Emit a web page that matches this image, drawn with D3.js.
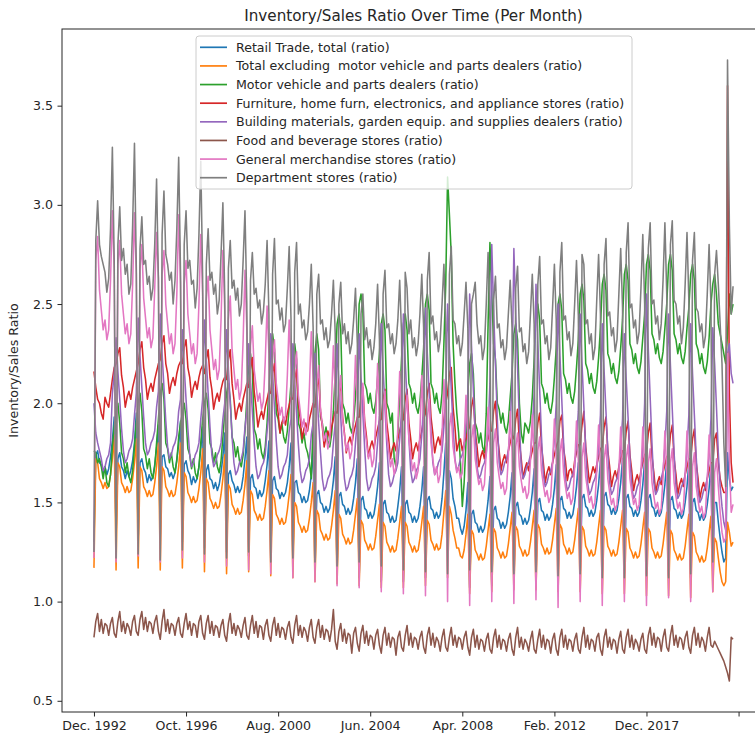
<!DOCTYPE html>
<html>
<head>
<meta charset="utf-8">
<script src="https://cdn.jsdelivr.net/npm/d3@7"></script>
<style>
  body { margin: 0; background: #fff; }
  text { font-family: "DejaVu Sans", sans-serif; fill: #262626; }
</style>
</head>
<body>
<svg width="755" height="735"></svg>
<script>
// monthly points, first one is Dec. 1992, one row = Dec..Nov
var tickLabels = ["Dec. 1992", "Oct. 1996", "Aug. 2000", "Jun. 2004", "Apr. 2008", "Feb. 2012", "Dec. 2017"];
var tickIndex = [0, 50, 100, 150, 200, 250, 300, 350];

var seriesNames = [
  "Retail Trade, total (ratio)",
  "Total excluding  motor vehicle and parts dealers (ratio)",
  "Motor vehicle and parts dealers (ratio)",
  "Furniture, home furn, electronics, and appliance stores (ratio)",
  "Building materials, garden equip. and supplies dealers (ratio)",
  "Food and beverage stores (ratio)",
  "General merchandise stores (ratio)",
  "Department stores (ratio)"
];
var colors = ["#1f77b4", "#ff7f0e", "#2ca02c", "#d62728", "#9467bd", "#8c564b", "#e377c2", "#7f7f7f"];

var retailTotal = [
  1.30, 1.74, 1.76, 1.70, 1.69, 1.65, 1.68, 1.64, 1.67, 1.73, 1.81, 1.93,
  1.33, 1.72, 1.75, 1.68, 1.66, 1.62, 1.66, 1.63, 1.66, 1.71, 1.80, 1.95,
  1.31, 1.70, 1.72, 1.67, 1.65, 1.60, 1.64, 1.61, 1.63, 1.69, 1.77, 1.89,
  1.33, 1.73, 1.74, 1.68, 1.67, 1.63, 1.65, 1.62, 1.65, 1.72, 1.79, 1.91,
  1.30, 1.69, 1.71, 1.66, 1.64, 1.59, 1.63, 1.60, 1.62, 1.68, 1.77, 1.88,
  1.27, 1.66, 1.69, 1.62, 1.61, 1.57, 1.60, 1.56, 1.59, 1.65, 1.73, 1.85,
  1.25, 1.64, 1.66, 1.61, 1.59, 1.55, 1.58, 1.55, 1.57, 1.63, 1.72, 1.83,
  1.23, 1.62, 1.64, 1.58, 1.57, 1.52, 1.56, 1.53, 1.55, 1.61, 1.69, 1.81,
  1.22, 1.61, 1.63, 1.57, 1.56, 1.52, 1.55, 1.53, 1.55, 1.60, 1.68, 1.80,
  1.20, 1.60, 1.61, 1.55, 1.54, 1.50, 1.53, 1.50, 1.51, 1.56, 1.64, 1.78,
  1.15, 1.54, 1.56, 1.50, 1.49, 1.45, 1.48, 1.45, 1.47, 1.53, 1.61, 1.73,
  1.14, 1.53, 1.55, 1.49, 1.48, 1.44, 1.47, 1.44, 1.46, 1.52, 1.60, 1.72,
  1.12, 1.51, 1.53, 1.47, 1.46, 1.42, 1.45, 1.42, 1.44, 1.50, 1.58, 1.70,
  1.10, 1.49, 1.51, 1.45, 1.44, 1.40, 1.43, 1.40, 1.41, 1.48, 1.56, 1.68,
  1.10, 1.49, 1.51, 1.45, 1.44, 1.40, 1.43, 1.40, 1.42, 1.48, 1.56, 1.68,
  1.12, 1.51, 1.53, 1.47, 1.46, 1.42, 1.45, 1.42, 1.44, 1.52, 1.65, 1.80,
  1.30, 1.66, 1.62, 1.52, 1.48, 1.42, 1.42, 1.37, 1.34, 1.38, 1.46, 1.60,
  1.07, 1.44, 1.46, 1.40, 1.39, 1.35, 1.38, 1.35, 1.37, 1.43, 1.51, 1.63,
  1.08, 1.46, 1.48, 1.42, 1.41, 1.37, 1.40, 1.37, 1.39, 1.45, 1.53, 1.65,
  1.10, 1.48, 1.50, 1.44, 1.43, 1.39, 1.42, 1.39, 1.41, 1.47, 1.55, 1.67,
  1.12, 1.50, 1.52, 1.46, 1.45, 1.41, 1.44, 1.41, 1.43, 1.49, 1.57, 1.69,
  1.13, 1.51, 1.53, 1.47, 1.46, 1.42, 1.45, 1.42, 1.44, 1.50, 1.58, 1.70,
  1.14, 1.52, 1.54, 1.48, 1.47, 1.43, 1.46, 1.43, 1.45, 1.51, 1.59, 1.71,
  1.15, 1.53, 1.55, 1.49, 1.48, 1.44, 1.47, 1.44, 1.46, 1.52, 1.60, 1.72,
  1.14, 1.52, 1.54, 1.48, 1.47, 1.43, 1.46, 1.43, 1.45, 1.51, 1.59, 1.71,
  1.14, 1.52, 1.54, 1.48, 1.47, 1.43, 1.46, 1.43, 1.45, 1.51, 1.59, 1.71,
  1.13, 1.51, 1.53, 1.47, 1.46, 1.42, 1.45, 1.42, 1.44, 1.50, 1.58, 1.70,
  1.12, 1.50, 1.52, 1.46, 1.45, 1.41, 1.44, 1.41, 1.43, 1.49, 1.57, 1.69,
  1.15, 1.50, 1.50, 1.40, 1.32, 1.25, 1.20, 1.22, 1.75, 1.62, 1.56, 1.58
];

var totalExMotor = [
  1.17, 1.72, 1.70, 1.62, 1.60, 1.57, 1.60, 1.57, 1.58, 1.64, 1.72, 1.84,
  1.16, 1.70, 1.68, 1.60, 1.58, 1.55, 1.58, 1.55, 1.56, 1.62, 1.70, 1.82,
  1.17, 1.68, 1.66, 1.58, 1.56, 1.53, 1.56, 1.53, 1.54, 1.60, 1.68, 1.80,
  1.16, 1.68, 1.66, 1.58, 1.56, 1.53, 1.56, 1.53, 1.54, 1.60, 1.68, 1.80,
  1.17, 1.65, 1.63, 1.55, 1.53, 1.50, 1.53, 1.50, 1.51, 1.57, 1.65, 1.77,
  1.15, 1.62, 1.60, 1.52, 1.50, 1.47, 1.50, 1.47, 1.48, 1.54, 1.62, 1.74,
  1.14, 1.59, 1.57, 1.49, 1.47, 1.44, 1.47, 1.44, 1.45, 1.51, 1.59, 1.71,
  1.15, 1.56, 1.54, 1.46, 1.44, 1.41, 1.44, 1.41, 1.42, 1.48, 1.56, 1.66,
  1.13, 1.54, 1.52, 1.44, 1.42, 1.39, 1.42, 1.39, 1.40, 1.46, 1.54, 1.64,
  1.12, 1.50, 1.48, 1.40, 1.38, 1.35, 1.38, 1.35, 1.36, 1.42, 1.50, 1.60,
  1.10, 1.46, 1.44, 1.36, 1.34, 1.31, 1.34, 1.31, 1.32, 1.38, 1.46, 1.56,
  1.09, 1.44, 1.42, 1.34, 1.32, 1.29, 1.32, 1.29, 1.30, 1.36, 1.44, 1.52,
  1.08, 1.41, 1.39, 1.31, 1.29, 1.26, 1.29, 1.26, 1.27, 1.33, 1.41, 1.49,
  1.07, 1.40, 1.38, 1.30, 1.28, 1.25, 1.28, 1.25, 1.26, 1.32, 1.40, 1.48,
  1.07, 1.40, 1.38, 1.30, 1.28, 1.25, 1.28, 1.25, 1.26, 1.32, 1.40, 1.48,
  1.08, 1.41, 1.39, 1.31, 1.29, 1.26, 1.29, 1.26, 1.27, 1.34, 1.45, 1.56,
  1.12, 1.48, 1.44, 1.36, 1.32, 1.27, 1.27, 1.23, 1.22, 1.26, 1.34, 1.44,
  1.04, 1.36, 1.34, 1.26, 1.24, 1.21, 1.24, 1.21, 1.22, 1.28, 1.36, 1.44,
  1.05, 1.37, 1.35, 1.27, 1.25, 1.22, 1.25, 1.22, 1.23, 1.29, 1.37, 1.45,
  1.06, 1.38, 1.36, 1.28, 1.26, 1.23, 1.26, 1.23, 1.24, 1.30, 1.38, 1.46,
  1.06, 1.39, 1.37, 1.29, 1.27, 1.24, 1.27, 1.24, 1.25, 1.31, 1.39, 1.47,
  1.05, 1.39, 1.37, 1.29, 1.27, 1.24, 1.27, 1.24, 1.25, 1.31, 1.39, 1.47,
  1.05, 1.38, 1.36, 1.28, 1.26, 1.23, 1.26, 1.23, 1.24, 1.30, 1.38, 1.46,
  1.04, 1.38, 1.36, 1.28, 1.26, 1.23, 1.26, 1.23, 1.24, 1.30, 1.38, 1.46,
  1.04, 1.37, 1.35, 1.27, 1.25, 1.22, 1.25, 1.22, 1.23, 1.29, 1.37, 1.45,
  1.03, 1.37, 1.35, 1.27, 1.25, 1.22, 1.25, 1.22, 1.23, 1.29, 1.37, 1.45,
  1.03, 1.36, 1.34, 1.26, 1.24, 1.21, 1.24, 1.21, 1.22, 1.28, 1.36, 1.44,
  1.02, 1.35, 1.33, 1.25, 1.23, 1.20, 1.23, 1.20, 1.21, 1.27, 1.35, 1.43,
  1.05, 1.32, 1.30, 1.22, 1.15, 1.10, 1.08, 1.10, 1.40, 1.35, 1.28, 1.30
];

var motorVehicle = [
  1.76, 1.75, 1.70, 1.72, 1.68, 1.62, 1.68, 1.60, 1.58, 1.64, 1.78, 1.88,
  1.95, 2.00, 1.90, 1.75, 1.72, 1.65, 1.70, 1.63, 1.60, 1.66, 1.78, 1.90,
  2.00, 2.05, 1.96, 1.77, 1.74, 1.67, 1.72, 1.65, 1.62, 1.68, 1.80, 1.92,
  2.05, 2.10, 2.02, 1.80, 1.77, 1.70, 1.75, 1.68, 1.65, 1.71, 1.83, 1.90,
  1.95, 2.00, 1.92, 1.77, 1.74, 1.67, 1.72, 1.65, 1.62, 1.68, 1.80, 1.92,
  2.00, 2.05, 1.97, 1.80, 1.77, 1.70, 1.75, 1.68, 1.65, 1.71, 1.83, 1.95,
  2.05, 2.10, 2.02, 1.83, 1.80, 1.73, 1.78, 1.71, 1.68, 1.74, 1.86, 2.02,
  2.20, 2.25, 2.17, 1.87, 1.84, 1.77, 1.82, 1.75, 1.72, 1.78, 1.90, 2.08,
  2.30, 2.35, 2.27, 1.95, 1.92, 1.85, 1.90, 1.83, 1.80, 1.86, 1.98, 2.10,
  2.25, 2.30, 2.22, 1.90, 1.87, 1.80, 1.85, 1.78, 1.75, 1.70, 1.62, 1.90,
  2.25, 2.35, 2.27, 1.93, 1.90, 1.83, 1.88, 1.81, 1.78, 1.84, 1.96, 2.15,
  2.40, 2.45, 2.37, 2.00, 1.97, 1.90, 1.95, 1.88, 1.85, 1.91, 2.03, 2.20,
  2.50, 2.55, 2.47, 2.10, 2.07, 2.00, 2.05, 1.98, 1.95, 2.01, 2.13, 2.25,
  2.40, 2.45, 2.37, 2.00, 1.97, 1.90, 1.95, 1.72, 1.68, 1.85, 2.03, 2.22,
  2.40, 2.45, 2.37, 2.10, 2.07, 2.00, 2.05, 1.98, 1.95, 2.01, 2.13, 2.28,
  2.50, 2.55, 2.47, 2.10, 2.07, 2.00, 2.05, 1.98, 1.95, 2.05, 2.30, 2.60,
  3.14, 2.95, 2.75, 2.30, 2.10, 1.95, 1.85, 1.70, 1.48, 1.60, 1.80, 2.05,
  2.20, 2.25, 2.15, 1.90, 1.87, 1.80, 1.85, 1.78, 1.75, 1.95, 2.40, 2.81,
  2.55, 2.30, 2.22, 2.00, 1.97, 1.90, 1.95, 1.88, 1.85, 1.91, 2.03, 2.15,
  2.35, 2.40, 2.32, 2.00, 1.85, 1.80, 1.90, 1.88, 1.85, 1.91, 2.03, 2.22,
  2.45, 2.50, 2.42, 2.10, 2.07, 2.00, 2.05, 1.98, 1.95, 2.01, 2.13, 2.28,
  2.50, 2.55, 2.47, 2.15, 2.12, 2.05, 2.10, 2.03, 2.00, 2.06, 2.18, 2.32,
  2.55, 2.60, 2.52, 2.20, 2.17, 2.10, 2.15, 2.08, 2.05, 2.11, 2.23, 2.38,
  2.60, 2.65, 2.57, 2.25, 2.22, 2.15, 2.20, 2.13, 2.10, 2.16, 2.28, 2.42,
  2.65, 2.70, 2.62, 2.30, 2.27, 2.20, 2.25, 2.18, 2.15, 2.21, 2.33, 2.45,
  2.70, 2.75, 2.67, 2.35, 2.32, 2.25, 2.30, 2.23, 2.20, 2.26, 2.38, 2.50,
  2.70, 2.75, 2.67, 2.35, 2.32, 2.25, 2.30, 2.23, 2.20, 2.26, 2.38, 2.48,
  2.65, 2.70, 2.62, 2.30, 2.27, 2.20, 2.25, 2.18, 2.15, 2.21, 2.33, 2.50,
  2.60, 2.65, 2.55, 2.40, 2.35, 2.30, 2.25, 2.20, 2.35, 2.55, 2.45, 2.50
];

var furniture = [
  2.16, 2.08, 2.02, 2.00, 1.95, 1.92, 2.03, 2.00, 1.98, 2.05, 2.12, 2.18,
  2.20, 2.25, 2.28, 2.14, 2.08, 1.98, 2.03, 2.06, 2.02, 2.08, 2.12, 2.16,
  2.20, 2.27, 2.31, 2.18, 2.12, 2.02, 2.07, 2.10, 2.06, 2.12, 2.16, 2.20,
  2.22, 2.30, 2.34, 2.20, 2.15, 2.05, 2.10, 2.13, 2.09, 2.15, 2.19, 2.21,
  2.20, 2.28, 2.32, 2.18, 2.13, 2.03, 2.08, 2.11, 2.07, 2.13, 2.17, 2.19,
  2.15, 2.22, 2.27, 2.13, 2.07, 1.97, 2.02, 2.05, 2.01, 2.07, 2.11, 2.13,
  2.12, 2.22, 2.27, 2.10, 2.02, 1.92, 1.97, 2.00, 1.96, 2.02, 2.06, 2.10,
  2.08, 2.18, 2.23, 2.06, 1.98, 1.88, 1.93, 1.96, 1.92, 1.98, 2.02, 2.06,
  2.05, 2.15, 2.20, 2.03, 1.95, 1.85, 1.90, 1.93, 1.89, 1.95, 1.99, 2.03,
  2.02, 2.12, 2.17, 2.00, 1.92, 1.82, 1.87, 1.90, 1.86, 1.92, 1.96, 2.00,
  1.98, 2.08, 2.13, 1.96, 1.88, 1.78, 1.83, 1.86, 1.82, 1.88, 1.92, 1.96,
  1.95, 2.05, 2.10, 1.93, 1.85, 1.75, 1.80, 1.83, 1.79, 1.85, 1.89, 1.93,
  1.93, 2.03, 2.08, 1.91, 1.83, 1.73, 1.78, 1.81, 1.77, 1.83, 1.87, 1.91,
  1.92, 2.02, 2.07, 1.90, 1.82, 1.72, 1.77, 1.80, 1.76, 1.82, 1.86, 1.90,
  1.92, 2.02, 2.07, 1.90, 1.82, 1.72, 1.77, 1.80, 1.76, 1.82, 1.86, 1.92,
  1.95, 2.05, 2.10, 1.93, 1.85, 1.75, 1.80, 1.83, 1.79, 1.85, 1.92, 2.00,
  2.05, 2.15, 2.18, 1.98, 1.88, 1.76, 1.80, 1.82, 1.76, 1.80, 1.82, 1.86,
  1.88, 1.98, 2.03, 1.86, 1.78, 1.68, 1.73, 1.76, 1.72, 1.78, 1.82, 1.86,
  1.86, 1.96, 2.01, 1.84, 1.76, 1.66, 1.71, 1.74, 1.70, 1.76, 1.80, 1.84,
  1.82, 1.92, 1.97, 1.80, 1.72, 1.62, 1.67, 1.70, 1.66, 1.72, 1.76, 1.80,
  1.80, 1.90, 1.95, 1.78, 1.70, 1.60, 1.65, 1.68, 1.64, 1.70, 1.74, 1.78,
  1.81, 1.91, 1.94, 1.77, 1.71, 1.61, 1.66, 1.67, 1.63, 1.71, 1.75, 1.79,
  1.79, 1.89, 1.96, 1.78, 1.69, 1.60, 1.64, 1.68, 1.65, 1.69, 1.73, 1.77,
  1.78, 1.88, 1.93, 1.76, 1.68, 1.58, 1.63, 1.66, 1.62, 1.68, 1.72, 1.76,
  1.76, 1.86, 1.91, 1.74, 1.66, 1.56, 1.61, 1.64, 1.60, 1.66, 1.70, 1.74,
  1.75, 1.85, 1.90, 1.73, 1.65, 1.55, 1.60, 1.63, 1.59, 1.65, 1.69, 1.73,
  1.74, 1.84, 1.89, 1.72, 1.64, 1.54, 1.59, 1.62, 1.58, 1.64, 1.68, 1.72,
  1.72, 1.82, 1.87, 1.70, 1.62, 1.52, 1.57, 1.60, 1.56, 1.62, 1.66, 1.70,
  1.70, 1.82, 1.85, 1.70, 1.62, 1.58, 1.55, 1.55, 3.60, 2.05, 1.70, 1.60
];

var building = [
  2.00, 1.85, 1.80, 1.76, 1.72, 1.66, 1.68, 1.72, 1.74, 1.80, 2.05, 2.15,
  2.33, 2.16, 2.02, 1.87, 1.76, 1.70, 1.72, 1.76, 1.78, 1.82, 1.94, 2.05,
  2.43, 2.24, 2.08, 1.93, 1.80, 1.74, 1.76, 1.80, 1.82, 1.86, 1.98, 2.06,
  2.45, 2.25, 2.08, 1.91, 1.78, 1.72, 1.74, 1.78, 1.80, 1.84, 1.96, 2.02,
  2.37, 2.18, 2.02, 1.87, 1.74, 1.68, 1.70, 1.74, 1.76, 1.80, 1.92, 2.02,
  2.42, 2.22, 2.05, 1.88, 1.74, 1.68, 1.70, 1.74, 1.76, 1.80, 1.92, 2.00,
  2.37, 2.17, 2.00, 1.83, 1.70, 1.64, 1.66, 1.70, 1.72, 1.76, 1.88, 1.96,
  2.30, 2.11, 1.96, 1.80, 1.68, 1.62, 1.64, 1.68, 1.70, 1.74, 1.86, 1.95,
  2.35, 2.15, 1.98, 1.81, 1.68, 1.62, 1.64, 1.68, 1.70, 1.74, 1.86, 1.92,
  2.30, 2.11, 1.95, 1.79, 1.66, 1.60, 1.62, 1.66, 1.68, 1.72, 1.84, 1.90,
  2.25, 2.06, 1.90, 1.75, 1.62, 1.56, 1.58, 1.62, 1.64, 1.68, 1.80, 1.90,
  2.30, 2.10, 1.93, 1.76, 1.62, 1.56, 1.58, 1.62, 1.64, 1.68, 1.80, 1.92,
  2.35, 2.13, 1.95, 1.77, 1.62, 1.56, 1.58, 1.62, 1.64, 1.68, 1.80, 1.94,
  2.40, 2.17, 1.98, 1.79, 1.64, 1.58, 1.60, 1.64, 1.66, 1.70, 1.82, 1.96,
  2.45, 2.21, 2.02, 1.82, 1.66, 1.60, 1.62, 1.66, 1.68, 1.72, 1.84, 2.00,
  2.48, 2.25, 2.05, 1.86, 1.70, 1.64, 1.66, 1.70, 1.72, 1.76, 1.88, 2.02,
  2.50, 2.27, 2.07, 1.88, 1.72, 1.66, 1.68, 1.72, 1.74, 1.78, 1.90, 2.05,
  2.55, 2.29, 2.07, 1.85, 1.68, 1.62, 1.64, 1.68, 1.70, 1.74, 1.86, 2.10,
  2.80, 2.47, 2.20, 1.92, 1.70, 1.64, 1.66, 1.70, 1.72, 1.76, 1.88, 2.12,
  2.78, 2.45, 2.18, 1.90, 1.68, 1.62, 1.64, 1.68, 1.70, 1.74, 1.86, 2.05,
  2.60, 2.31, 2.07, 1.83, 1.64, 1.58, 1.60, 1.64, 1.66, 1.70, 1.82, 2.00,
  2.50, 2.24, 2.02, 1.80, 1.62, 1.56, 1.58, 1.62, 1.64, 1.68, 1.80, 1.96,
  2.45, 2.20, 1.98, 1.77, 1.60, 1.54, 1.56, 1.60, 1.62, 1.66, 1.78, 1.94,
  2.40, 2.16, 1.96, 1.76, 1.60, 1.54, 1.56, 1.60, 1.62, 1.66, 1.78, 1.92,
  2.35, 2.12, 1.93, 1.73, 1.58, 1.52, 1.54, 1.58, 1.60, 1.64, 1.76, 2.00,
  2.55, 2.27, 2.03, 1.79, 1.60, 1.54, 1.56, 1.60, 1.62, 1.66, 1.78, 1.96,
  2.45, 2.19, 1.97, 1.75, 1.58, 1.52, 1.54, 1.58, 1.60, 1.64, 1.76, 1.94,
  2.40, 2.15, 1.94, 1.73, 1.56, 1.50, 1.52, 1.56, 1.58, 1.62, 1.74, 1.92,
  2.38, 2.20, 1.98, 1.75, 1.58, 1.48, 1.40, 1.36, 2.25, 2.30, 2.15, 2.10
];

var foodBeverage = [
  0.82, 0.90, 0.94, 0.85, 0.91, 0.84, 0.89, 0.88, 0.83, 0.89, 0.92, 0.84,
  0.82, 0.90, 0.95, 0.85, 0.90, 0.84, 0.89, 0.87, 0.83, 0.90, 0.93, 0.85,
  0.83, 0.91, 0.95, 0.86, 0.92, 0.85, 0.90, 0.89, 0.84, 0.90, 0.93, 0.85,
  0.81, 0.90, 0.96, 0.85, 0.91, 0.84, 0.89, 0.88, 0.83, 0.89, 0.92, 0.84,
  0.82, 0.89, 0.94, 0.86, 0.90, 0.83, 0.89, 0.88, 0.82, 0.90, 0.93, 0.84,
  0.81, 0.89, 0.93, 0.84, 0.90, 0.83, 0.88, 0.87, 0.82, 0.88, 0.91, 0.83,
  0.80, 0.89, 0.94, 0.84, 0.89, 0.83, 0.88, 0.86, 0.82, 0.88, 0.92, 0.83,
  0.81, 0.88, 0.93, 0.84, 0.90, 0.82, 0.88, 0.87, 0.81, 0.88, 0.91, 0.83,
  0.80, 0.88, 0.92, 0.83, 0.89, 0.82, 0.87, 0.86, 0.81, 0.87, 0.90, 0.82,
  0.79, 0.88, 0.93, 0.83, 0.88, 0.82, 0.87, 0.85, 0.80, 0.87, 0.91, 0.82,
  0.79, 0.87, 0.91, 0.82, 0.88, 0.81, 0.86, 0.85, 0.80, 0.86, 0.96, 0.80,
  0.76, 0.85, 0.89, 0.80, 0.86, 0.79, 0.84, 0.83, 0.74, 0.84, 0.87, 0.79,
  0.75, 0.84, 0.88, 0.79, 0.85, 0.78, 0.83, 0.82, 0.76, 0.83, 0.86, 0.78,
  0.74, 0.83, 0.87, 0.78, 0.84, 0.77, 0.82, 0.81, 0.73, 0.82, 0.85, 0.77,
  0.75, 0.83, 0.88, 0.78, 0.84, 0.77, 0.82, 0.81, 0.76, 0.82, 0.85, 0.77,
  0.74, 0.83, 0.87, 0.78, 0.84, 0.77, 0.82, 0.80, 0.75, 0.82, 0.86, 0.77,
  0.75, 0.82, 0.87, 0.78, 0.83, 0.77, 0.82, 0.81, 0.76, 0.82, 0.85, 0.77,
  0.73, 0.82, 0.86, 0.77, 0.83, 0.76, 0.81, 0.80, 0.75, 0.81, 0.84, 0.76,
  0.74, 0.82, 0.86, 0.77, 0.83, 0.76, 0.81, 0.80, 0.75, 0.81, 0.84, 0.76,
  0.73, 0.82, 0.87, 0.77, 0.82, 0.76, 0.81, 0.79, 0.75, 0.81, 0.85, 0.76,
  0.74, 0.81, 0.86, 0.77, 0.83, 0.76, 0.81, 0.80, 0.74, 0.81, 0.84, 0.76,
  0.73, 0.82, 0.86, 0.77, 0.83, 0.76, 0.81, 0.80, 0.75, 0.81, 0.84, 0.76,
  0.74, 0.82, 0.87, 0.77, 0.83, 0.76, 0.81, 0.80, 0.75, 0.82, 0.84, 0.76,
  0.73, 0.82, 0.86, 0.77, 0.82, 0.76, 0.81, 0.80, 0.74, 0.81, 0.85, 0.76,
  0.74, 0.82, 0.86, 0.77, 0.83, 0.76, 0.81, 0.79, 0.75, 0.81, 0.84, 0.76,
  0.74, 0.83, 0.87, 0.78, 0.84, 0.77, 0.82, 0.81, 0.75, 0.82, 0.86, 0.77,
  0.75, 0.83, 0.88, 0.78, 0.83, 0.77, 0.82, 0.81, 0.76, 0.82, 0.85, 0.77,
  0.74, 0.83, 0.87, 0.78, 0.84, 0.77, 0.82, 0.80, 0.75, 0.82, 0.87, 0.78,
  0.77, 0.80, 0.78, 0.76, 0.74, 0.72, 0.70, 0.67, 0.64, 0.60, 0.82, 0.81
];

var generalMerch = [
  1.22, 2.72, 2.84, 2.57, 2.47, 2.37, 2.42, 2.32, 2.37, 2.62, 2.97, 2.67,
  1.20, 2.70, 2.82, 2.55, 2.45, 2.35, 2.40, 2.30, 2.35, 2.60, 2.96, 2.65,
  1.23, 2.68, 2.80, 2.53, 2.43, 2.33, 2.38, 2.28, 2.33, 2.58, 2.86, 2.63,
  1.20, 2.65, 2.77, 2.50, 2.40, 2.30, 2.35, 2.25, 2.30, 2.55, 2.95, 2.60,
  1.22, 2.60, 2.72, 2.45, 2.35, 2.25, 2.30, 2.20, 2.25, 2.50, 2.85, 2.55,
  1.20, 2.52, 2.64, 2.37, 2.27, 2.17, 2.22, 2.12, 2.17, 2.42, 2.77, 2.47,
  1.18, 2.42, 2.54, 2.27, 2.17, 2.07, 2.12, 2.02, 2.07, 2.32, 2.67, 2.37,
  1.16, 2.29, 2.39, 2.17, 2.09, 2.01, 2.05, 1.97, 2.01, 2.21, 2.49, 2.25,
  1.14, 2.22, 2.32, 2.10, 2.02, 1.94, 1.98, 1.90, 1.94, 2.14, 2.42, 2.18,
  1.12, 2.16, 2.26, 2.04, 1.96, 1.88, 1.92, 1.84, 1.88, 2.08, 2.36, 2.12,
  1.10, 2.09, 2.19, 1.97, 1.89, 1.81, 1.85, 1.77, 1.81, 2.01, 2.29, 2.05,
  1.08, 2.04, 2.14, 1.92, 1.84, 1.76, 1.80, 1.72, 1.76, 1.96, 2.24, 2.00,
  1.07, 2.00, 2.10, 1.88, 1.80, 1.72, 1.76, 1.68, 1.72, 1.92, 2.20, 1.96,
  1.05, 1.96, 2.06, 1.84, 1.76, 1.68, 1.72, 1.64, 1.68, 1.88, 2.16, 1.92,
  1.04, 1.94, 2.04, 1.82, 1.74, 1.66, 1.70, 1.62, 1.66, 1.86, 2.14, 1.90,
  1.03, 1.92, 2.02, 1.80, 1.72, 1.64, 1.68, 1.60, 1.64, 1.84, 2.12, 1.88,
  1.00, 1.88, 1.95, 1.78, 1.71, 1.65, 1.68, 1.62, 1.65, 1.81, 2.04, 1.84,
  0.98, 1.82, 1.89, 1.72, 1.65, 1.59, 1.62, 1.56, 1.59, 1.75, 1.98, 1.78,
  1.00, 1.80, 1.87, 1.70, 1.63, 1.57, 1.60, 1.54, 1.57, 1.73, 1.96, 1.76,
  0.99, 1.78, 1.85, 1.68, 1.61, 1.55, 1.58, 1.52, 1.55, 1.71, 1.94, 1.74,
  1.01, 1.76, 1.83, 1.66, 1.59, 1.53, 1.56, 1.50, 1.53, 1.69, 1.92, 1.72,
  0.97, 1.75, 1.82, 1.65, 1.58, 1.52, 1.55, 1.49, 1.52, 1.68, 1.91, 1.71,
  1.00, 1.73, 1.80, 1.63, 1.56, 1.50, 1.53, 1.47, 1.50, 1.66, 1.89, 1.69,
  0.98, 1.72, 1.79, 1.62, 1.55, 1.49, 1.52, 1.46, 1.49, 1.65, 1.88, 1.68,
  1.00, 1.72, 1.79, 1.62, 1.55, 1.49, 1.52, 1.46, 1.49, 1.65, 1.88, 1.68,
  0.98, 1.70, 1.77, 1.60, 1.53, 1.47, 1.50, 1.44, 1.47, 1.63, 1.86, 1.66,
  1.02, 1.70, 1.77, 1.60, 1.53, 1.47, 1.50, 1.44, 1.47, 1.63, 1.86, 1.66,
  1.00, 1.68, 1.75, 1.58, 1.51, 1.45, 1.48, 1.42, 1.45, 1.61, 1.84, 1.64,
  1.05, 1.65, 1.72, 1.58, 1.45, 1.35, 1.30, 1.32, 2.25, 1.70, 1.45, 1.49
];

var department = [
  1.25, 2.82, 3.02, 2.80, 2.74, 2.70, 2.66, 2.56, 2.63, 2.88, 3.29, 2.72,
  1.22, 2.80, 2.99, 2.72, 2.78, 2.65, 2.70, 2.55, 2.60, 2.90, 3.31, 2.68,
  1.24, 2.78, 2.94, 2.70, 2.72, 2.60, 2.64, 2.52, 2.58, 2.80, 3.13, 2.62,
  1.21, 2.85, 3.07, 2.75, 2.70, 2.62, 2.66, 2.50, 2.62, 2.88, 3.24, 2.66,
  1.26, 2.80, 2.97, 2.68, 2.72, 2.60, 2.62, 2.48, 2.58, 2.85, 3.22, 2.64,
  1.24, 2.70, 2.88, 2.62, 2.66, 2.55, 2.60, 2.45, 2.52, 2.75, 3.01, 2.55,
  1.22, 2.68, 2.82, 2.58, 2.62, 2.52, 2.58, 2.44, 2.50, 2.72, 2.97, 2.50,
  1.25, 2.62, 2.76, 2.55, 2.58, 2.48, 2.52, 2.40, 2.46, 2.60, 2.82, 2.45,
  1.20, 2.65, 2.83, 2.50, 2.52, 2.42, 2.48, 2.36, 2.40, 2.58, 2.79, 2.42,
  1.22, 2.66, 2.81, 2.45, 2.50, 2.38, 2.42, 2.32, 2.36, 2.50, 2.70, 2.38,
  1.20, 2.55, 2.65, 2.40, 2.42, 2.32, 2.38, 2.28, 2.32, 2.45, 2.62, 2.35,
  1.18, 2.50, 2.61, 2.35, 2.40, 2.30, 2.36, 2.25, 2.30, 2.42, 2.58, 2.30,
  1.20, 2.45, 2.55, 2.32, 2.38, 2.28, 2.32, 2.22, 2.28, 2.40, 2.60, 2.32,
  1.18, 2.55, 2.67, 2.38, 2.40, 2.30, 2.35, 2.25, 2.30, 2.42, 2.62, 2.35,
  1.16, 2.66, 2.58, 2.35, 2.42, 2.28, 2.33, 2.24, 2.30, 2.45, 2.65, 2.38,
  1.15, 2.62, 2.76, 2.40, 2.44, 2.32, 2.36, 2.26, 2.32, 2.50, 2.70, 2.40,
  1.14, 2.65, 2.79, 2.42, 2.40, 2.30, 2.34, 2.24, 2.30, 2.45, 2.61, 2.38,
  1.16, 2.50, 2.55, 2.61, 2.40, 2.30, 2.34, 2.22, 2.28, 2.50, 2.76, 2.42,
  1.15, 2.52, 2.64, 2.38, 2.40, 2.28, 2.32, 2.22, 2.28, 2.45, 2.62, 2.38,
  1.14, 2.58, 2.69, 2.36, 2.38, 2.26, 2.30, 2.20, 2.26, 2.45, 2.65, 2.40,
  1.15, 2.60, 2.74, 2.40, 2.42, 2.30, 2.34, 2.22, 2.28, 2.48, 2.70, 2.42,
  1.13, 2.66, 2.81, 2.42, 2.44, 2.32, 2.36, 2.24, 2.30, 2.50, 2.72, 2.44,
  1.14, 2.75, 2.70, 2.40, 2.42, 2.30, 2.35, 2.22, 2.28, 2.52, 2.75, 2.45,
  1.12, 2.70, 2.83, 2.44, 2.46, 2.34, 2.38, 2.26, 2.32, 2.55, 2.78, 2.48,
  1.12, 2.76, 2.91, 2.48, 2.50, 2.38, 2.42, 2.30, 2.36, 2.58, 2.85, 2.50,
  1.13, 2.78, 2.91, 2.50, 2.52, 2.40, 2.44, 2.32, 2.40, 2.62, 2.91, 2.55,
  1.12, 2.80, 2.92, 2.52, 2.50, 2.40, 2.44, 2.30, 2.38, 2.60, 2.86, 2.52,
  1.14, 2.72, 2.86, 2.48, 2.46, 2.36, 2.40, 2.28, 2.34, 2.55, 2.80, 2.50,
  1.20, 2.65, 2.77, 2.60, 2.40, 2.20, 1.80, 1.58, 3.73, 2.90, 2.45, 2.59
];

var allSeries = [retailTotal, totalExMotor, motorVehicle, furniture, building, foodBeverage, generalMerch, department];

var svg = d3.select("svg");
var plotLeft = 62, plotRight = 765, plotTop = 29, plotBottom = 712;
var n = retailTotal.length;
var xPad = (n - 1) * 0.05;

var x = d3.scaleLinear().domain([-xPad, n - 1 + xPad]).range([plotLeft, plotRight]);

var lo = d3.min(allSeries, function(s) { return d3.min(s); });
var hi = d3.max(allSeries, function(s) { return d3.max(s); });
var yPad = (hi - lo) * 0.05;
var y = d3.scaleLinear().domain([lo - yPad, hi + yPad]).range([plotBottom, plotTop]);

svg.append("defs").append("clipPath").attr("id", "plot")
  .append("rect").attr("x", plotLeft).attr("y", plotTop)
  .attr("width", plotRight - plotLeft).attr("height", plotBottom - plotTop);

var line = d3.line()
  .x(function(d, i) { return x(i); })
  .y(function(d) { return y(d); });

svg.append("g").attr("clip-path", "url(#plot)")
  .selectAll("path")
  .data(allSeries)
  .enter()
  .append("path")
  .attr("d", line)
  .attr("fill", "none")
  .attr("stroke", function(d, i) { return colors[i]; })
  .attr("stroke-width", 1.55)
  .attr("stroke-linejoin", "round");

// axes
var xAxis = d3.axisBottom(x)
  .tickValues(tickIndex)
  .tickSize(4.5)
  .tickPadding(4.5)
  .tickFormat(function(d, i) { return tickLabels[i] || ""; });

var yAxis = d3.axisLeft(y)
  .tickValues([0.5, 1.0, 1.5, 2.0, 2.5, 3.0, 3.5])
  .tickSize(4.5)
  .tickPadding(4.5)
  .tickFormat(d3.format(".1f"));

var gx = svg.append("g").attr("transform", "translate(0," + plotBottom + ")").call(xAxis);
var gy = svg.append("g").attr("transform", "translate(" + plotLeft + ",0)").call(yAxis);
[gx, gy].forEach(function(g) {
  g.select(".domain").remove();
  g.selectAll(".tick line").attr("stroke", "#262626").attr("stroke-width", 1);
  g.selectAll(".tick text").attr("font-size", 12.6).attr("fill", "#262626");
});

// spines
svg.append("rect")
  .attr("x", plotLeft).attr("y", plotTop)
  .attr("width", plotRight - plotLeft).attr("height", plotBottom - plotTop)
  .attr("fill", "none").attr("stroke", "#262626").attr("stroke-width", 1);

svg.append("text")
  .attr("x", (plotLeft + plotRight) / 2).attr("y", 21)
  .attr("text-anchor", "middle")
  .attr("font-size", 15.2)
  .text("Inventory/Sales Ratio Over Time (Per Month)");

svg.append("text")
  .attr("transform", "translate(18," + (plotTop + plotBottom) / 2 + ") rotate(-90)")
  .attr("text-anchor", "middle")
  .attr("font-size", 12.6)
  .text("Inventory/Sales Ratio");

// legend
var lg = svg.append("g");
lg.append("rect")
  .attr("x", 196).attr("y", 36).attr("width", 436).attr("height", 153)
  .attr("rx", 3)
  .attr("fill", "#fff").attr("fill-opacity", 0.8)
  .attr("stroke", "#cccccc").attr("stroke-width", 1);

var item = lg.selectAll(".item")
  .data(seriesNames)
  .enter()
  .append("g")
  .attr("transform", function(d, i) { return "translate(0," + (47.3 + i * 18.63) + ")"; });

item.append("line")
  .attr("x1", 200).attr("x2", 227)
  .attr("stroke", function(d, i) { return colors[i]; })
  .attr("stroke-width", 1.7);

item.append("text")
  .attr("x", 236).attr("y", 4.5)
  .attr("font-size", 12.6)
  .style("white-space", "pre")
  .text(function(d) { return d; });
</script>
</body>
</html>
